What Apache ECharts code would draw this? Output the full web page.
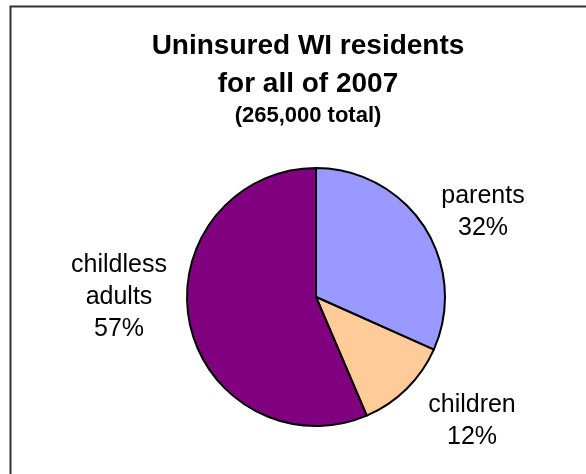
<!DOCTYPE html>
<html>
<head>
<meta charset="utf-8">
<script src="https://cdn.jsdelivr.net/npm/echarts@6/dist/echarts.min.js"></script>
<style>
  html, body { margin: 0; padding: 0; background: #fff; }
  #chart { width: 586px; height: 474px; }
</style>
</head>
<body>
<div id="chart"></div>
<script>
// slices, clockwise from 12 o'clock
const categories = ['parents', 'children', 'childless\nadults'];
const shares = [32, 12, 57];
const colors = ['#9999FF', '#FFCC99', '#800080'];
const titleLines = ['Uninsured WI residents', 'for all of 2007'];
const subTitle = '(265,000 total)';

// where each label sits (text layout only)
const labelPos = [[483, 212], [472, 421], [119, 297]];

const chart = echarts.init(document.getElementById('chart'));

chart.setOption({
  backgroundColor: '#fff',
  animation: false,
  title: {
    text: titleLines.join('\n'),
    subtext: subTitle,
    left: 303,
    top: 22,
    textAlign: 'center',
    itemGap: 2,
    textStyle: {
      fontFamily: 'Liberation Sans, Arial, sans-serif',
      fontWeight: 'bold',
      fontSize: 28,
      lineHeight: 38,
      color: '#000'
    },
    subtextStyle: {
      fontFamily: 'Liberation Sans, Arial, sans-serif',
      fontWeight: 'bold',
      fontSize: 22,
      color: '#000'
    }
  },
  graphic: [{
    type: 'rect',
    shape: { x: 10.5, y: 6.5, width: 600, height: 500 },
    style: { fill: null, stroke: '#333', lineWidth: 2 },
    silent: true
  }],
  series: [{
    type: 'pie',
    center: [316, 297],
    radius: 129,
    startAngle: 90,
    clockwise: true,
    avoidLabelOverlap: false,
    data: categories.map((name, i) => ({
      name: name,
      value: shares[i],
      itemStyle: { color: colors[i] }
    })),
    itemStyle: { borderColor: '#000', borderWidth: 2 },
    label: {
      show: true,
      position: 'outside',
      formatter: p => p.name + '\n' + p.value + '%',
      fontFamily: 'Liberation Sans, Arial, sans-serif',
      fontSize: 25,
      lineHeight: 32,
      color: '#000',
      align: 'center'
    },
    labelLine: { show: false },
    labelLayout: p => ({
      x: labelPos[p.dataIndex][0],
      y: labelPos[p.dataIndex][1],
      align: 'center',
      verticalAlign: 'middle'
    }),
    emphasis: { disabled: true }
  }]
});
</script>
</body>
</html>
